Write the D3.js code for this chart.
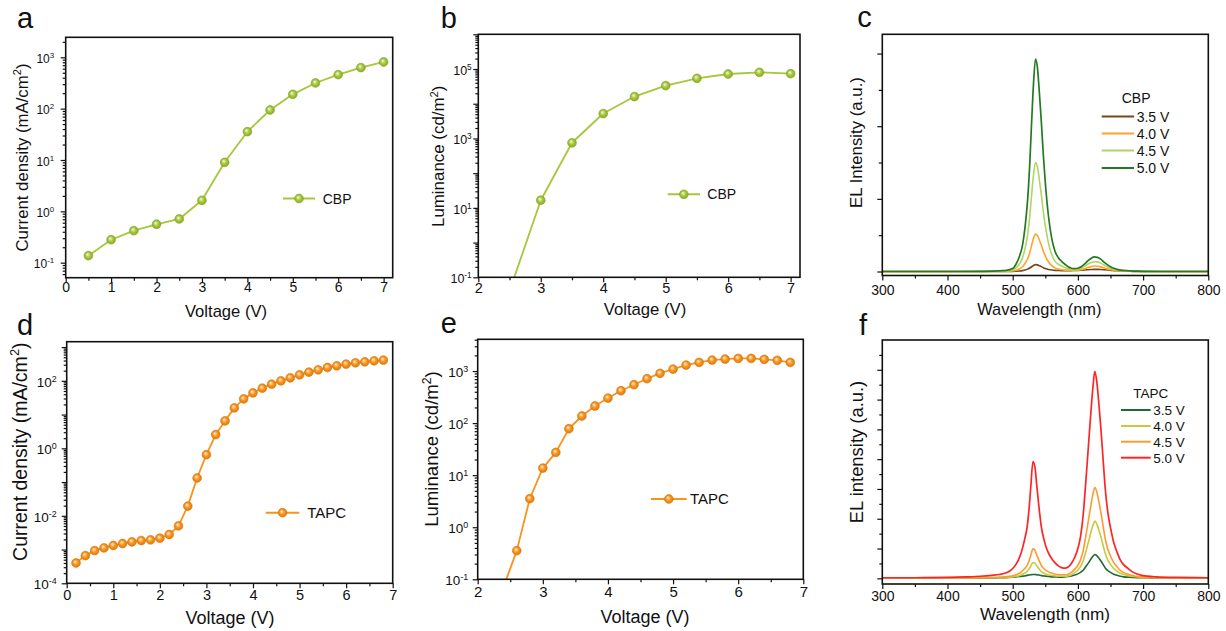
<!DOCTYPE html>
<html>
<head>
<meta charset="utf-8">
<script src="https://cdn.jsdelivr.net/npm/d3@7"></script>
<style>
  body { margin: 0; background: #fff; }
  svg { font-family: Arial, "Liberation Sans", Helvetica, sans-serif; display: block; }
</style>
</head>
<body>
<svg id="fig" width="1226" height="631"></svg>
<script>
// ---------------- data ----------------
// CBP device: J-V and L-V
const cbpVoltage   = [0.5, 1, 1.5, 2, 2.5, 3, 3.5, 4, 4.5, 5, 5.5, 6, 6.5, 7];
const cbpCurrent   = [0.137, 0.28, 0.42, 0.56, 0.71, 1.64, 9.0, 35.6, 94, 190, 316, 460, 630, 810];
const cbpLumVoltage = [2.5, 3, 3.5, 4, 4.5, 5, 5.5, 6, 6.5, 7];
const cbpLuminance  = [0.04, 16.6, 750, 5220, 16070, 33200, 54000, 71800, 80200, 73500];

// TAPC device: J-V and L-V
const tapcVoltage = [0.2, 0.4, 0.6, 0.8, 1.0, 1.2, 1.4, 1.6, 1.8, 2.0, 2.2, 2.4, 2.6, 2.8, 3.0, 3.2, 3.4,
                     3.6, 3.8, 4.0, 4.2, 4.4, 4.6, 4.8, 5.0, 5.2, 5.4, 5.6, 5.8, 6.0, 6.2, 6.4, 6.6, 6.8];
const tapcCurrent = [4.0e-4, 6.6e-4, 9.3e-4, 1.12e-3, 1.32e-3, 1.51e-3, 1.69e-3, 1.85e-3, 1.94e-3, 2.17e-3,
                     2.79e-3, 5.05e-3, 0.0194, 0.132, 0.65, 2.55, 6.5, 15.8, 29.2, 44, 60.5, 79.6, 100, 123,
                     151, 181, 212, 249, 279, 313, 343, 367, 393, 411];
const tapcLumVoltage = [2.4, 2.6, 2.8, 3.0, 3.2, 3.4, 3.6, 3.8, 4.0, 4.2, 4.4, 4.6, 4.8, 5.0, 5.2, 5.4,
                        5.6, 5.8, 6.0, 6.2, 6.4, 6.6, 6.8];
const tapcLuminance  = [0.073, 0.355, 3.54, 13.7, 27.4, 78, 137, 213, 303, 419, 547, 713, 902, 1092,
                        1304, 1466, 1626, 1700, 1750, 1750, 1675, 1603, 1466];

// CBP EL spectra (arbitrary units)
const cbpWavelength = [300, 350, 400, 450, 470, 480, 490, 500, 505, 510, 515, 520, 523, 526, 529, 532, 535,
                       538, 541, 544, 547, 550, 555, 560, 565, 570, 575, 580, 585, 590, 595, 600, 605, 610,
                       615, 620, 625, 630, 635, 640, 645, 650, 655, 660, 670, 680, 690, 700, 750, 800];
const cbpEL35 = [0, 0, 0, 0, 0, 0, 0.002, 0.004, 0.008, 0.014, 0.025, 0.047, 0.066, 0.095, 0.13, 0.167, 0.19,
                 0.183, 0.16, 0.135, 0.105, 0.082, 0.055, 0.04, 0.032, 0.028, 0.025, 0.024, 0.024, 0.025, 0.027,
                 0.03, 0.036, 0.043, 0.05, 0.056, 0.06, 0.059, 0.055, 0.048, 0.04, 0.032, 0.025, 0.019, 0.011,
                 0.006, 0.003, 0.002, 0, 0];
const cbpEL40 = [0, 0, 0, 0, 0, 0.004, 0.006, 0.014, 0.035, 0.07, 0.13, 0.25, 0.35, 0.51, 0.72, 0.92, 1.03,
                 0.99, 0.86, 0.72, 0.56, 0.43, 0.26, 0.16, 0.1, 0.065, 0.048, 0.038, 0.032, 0.03, 0.03, 0.035,
                 0.05, 0.075, 0.11, 0.135, 0.15, 0.146, 0.128, 0.1, 0.072, 0.05, 0.034, 0.023, 0.012, 0.006,
                 0.003, 0.002, 0, 0];
const cbpEL45 = [0, 0, 0, 0, 0.005, 0.01, 0.015, 0.04, 0.1, 0.2, 0.37, 0.72, 1.03, 1.49, 2.1, 2.67, 3.0,
                 2.87, 2.51, 2.1, 1.64, 1.26, 0.77, 0.46, 0.28, 0.2, 0.15, 0.11, 0.075, 0.055, 0.05, 0.06,
                 0.09, 0.14, 0.2, 0.245, 0.27, 0.265, 0.23, 0.18, 0.13, 0.09, 0.06, 0.04, 0.02, 0.01, 0.005,
                 0.003, 0, 0];
const cbpEL50 = [0, 0, 0, 0.005, 0.01, 0.02, 0.03, 0.08, 0.2, 0.4, 0.72, 1.4, 2.0, 2.9, 4.1, 5.2, 5.85,
                 5.6, 4.9, 4.1, 3.2, 2.45, 1.5, 0.9, 0.55, 0.38, 0.28, 0.2, 0.13, 0.09, 0.08, 0.09, 0.13, 0.2,
                 0.29, 0.36, 0.4, 0.39, 0.34, 0.26, 0.19, 0.13, 0.09, 0.06, 0.03, 0.015, 0.008, 0.005, 0, 0];

// TAPC EL spectra (arbitrary units)
const tapcWavelength = [300, 350, 400, 430, 450, 468, 480, 488, 495, 500, 505, 510, 514, 518, 522, 525, 528,
                        531, 534, 537, 540, 544, 548, 552, 556, 560, 565, 570, 575, 580, 585, 590, 595, 600,
                        604, 608, 612, 616, 620, 623, 626, 629, 632, 635, 638, 642, 646, 650, 655, 660, 665,
                        670, 677, 685, 698, 720, 750, 800];
const tapcEL35 = [0.01, 0.01, 0.01, 0.01, 0.01, 0.01, 0.02, 0.02, 0.03, 0.04, 0.05, 0.06, 0.07, 0.08, 0.1,
                  0.11, 0.12, 0.13, 0.13, 0.12, 0.11, 0.09, 0.08, 0.07, 0.06, 0.05, 0.05, 0.04, 0.04, 0.05,
                  0.06, 0.08, 0.11, 0.15, 0.2, 0.27, 0.39, 0.51, 0.65, 0.74, 0.8, 0.76, 0.68, 0.59, 0.49,
                  0.35, 0.26, 0.2, 0.14, 0.1, 0.07, 0.05, 0.04, 0.03, 0.02, 0.01, 0.01, 0.01];
const tapcEL40 = [0.01, 0.01, 0.01, 0.01, 0.02, 0.02, 0.02, 0.03, 0.04, 0.05, 0.07, 0.09, 0.13, 0.17, 0.23,
                  0.31, 0.43, 0.53, 0.51, 0.42, 0.33, 0.23, 0.17, 0.13, 0.11, 0.095, 0.08, 0.072, 0.07, 0.07,
                  0.08, 0.12, 0.19, 0.28, 0.39, 0.58, 0.88, 1.21, 1.55, 1.77, 1.92, 1.82, 1.63, 1.41, 1.16,
                  0.83, 0.61, 0.47, 0.33, 0.24, 0.17, 0.13, 0.09, 0.06, 0.03, 0.02, 0.01, 0.01];
const tapcEL45 = [0.02, 0.02, 0.02, 0.02, 0.03, 0.03, 0.04, 0.05, 0.07, 0.09, 0.12, 0.17, 0.23, 0.32, 0.43,
                  0.58, 0.79, 0.99, 0.95, 0.78, 0.62, 0.43, 0.32, 0.25, 0.2, 0.17, 0.14, 0.125, 0.12, 0.12,
                  0.14, 0.2, 0.3, 0.44, 0.62, 0.92, 1.4, 1.93, 2.46, 2.82, 3.05, 2.9, 2.6, 2.24, 1.85,
                  1.32, 0.97, 0.75, 0.53, 0.39, 0.27, 0.2, 0.14, 0.09, 0.05, 0.03, 0.02, 0.02];
const tapcEL50 = [0.02, 0.02, 0.03, 0.05, 0.07, 0.1, 0.13, 0.17, 0.24, 0.33, 0.47, 0.68, 0.93, 1.28, 1.7,
                  2.3, 3.15, 3.92, 3.75, 3.1, 2.45, 1.72, 1.3, 1.0, 0.8, 0.66, 0.52, 0.42, 0.36, 0.34,
                  0.38, 0.5, 0.7, 1.0, 1.4, 2.1, 3.2, 4.4, 5.6, 6.4, 6.95, 6.6, 5.9, 5.1, 4.2,
                  3.0, 2.2, 1.7, 1.2, 0.88, 0.62, 0.46, 0.33, 0.2, 0.1, 0.05, 0.03, 0.02];

const voltageLabels = ["3.5 V", "4.0 V", "4.5 V", "5.0 V"];

// ---------------- drawing helpers ----------------
const svg = d3.select("#fig");
const defs = svg.append("defs");

function ballGradient(id, light, base, dark) {
  const g = defs.append("radialGradient").attr("id", id)
    .attr("cx", "50%").attr("cy", "50%").attr("r", "55%").attr("fx", "38%").attr("fy", "34%");
  g.append("stop").attr("offset", "0%").attr("stop-color", light);
  g.append("stop").attr("offset", "50%").attr("stop-color", base);
  g.append("stop").attr("offset", "100%").attr("stop-color", dark);
}
ballGradient("ballGreen", "#f4fadf", "#a8c93c", "#86a526");
ballGradient("ballOrange", "#fff0d8", "#f8961f", "#d9770c");

function supText(sel, base, sup, tail, fs) {
  sel.text(null);
  sel.append("tspan").text(base);
  sel.append("tspan").attr("font-size", (fs * 0.66).toFixed(2)).attr("dy", (-fs * 0.4).toFixed(2)).text(sup);
  if (tail) sel.append("tspan").attr("font-size", fs).attr("dy", (fs * 0.4).toFixed(2)).text(tail);
}

function logTicks(domain) {
  const out = [];
  const e0 = Math.floor(Math.log10(domain[0])), e1 = Math.ceil(Math.log10(domain[1]));
  for (let e = e0; e <= e1; e++) {
    for (let m = 1; m <= 9; m++) {
      const v = m * Math.pow(10, e);
      if (v >= domain[0] * 0.9999 && v <= domain[1] * 1.0001) out.push(v);
    }
  }
  return out;
}

function panel(cfg) {
  const b = cfg.box;
  const g = svg.append("g");
  const x = d3.scaleLinear().domain(cfg.xDomain).range([b.x0, b.x1]);
  const y = (cfg.yLog ? d3.scaleLog() : d3.scaleLinear()).domain(cfg.yDomain).range([b.y1, b.y0]);

  const clipId = "clip-" + cfg.id;
  defs.append("clipPath").attr("id", clipId).append("rect")
    .attr("x", b.x0).attr("y", b.y0).attr("width", b.x1 - b.x0).attr("height", b.y1 - b.y0);

  // x axis: minor then major ticks
  const gxMinor = g.append("g").attr("transform", `translate(0,${b.y1})`)
    .call(d3.axisBottom(x).tickValues(cfg.xMinor).tickSize(3).tickFormat(""));
  const gx = g.append("g").attr("transform", `translate(0,${b.y1})`)
    .call(d3.axisBottom(x).tickValues(cfg.xMajor).tickSize(5).tickFormat(d3.format("d")));
  [gxMinor, gx].forEach(a => { a.select(".domain").remove(); a.selectAll("line").attr("stroke", "#111").attr("stroke-width", 1.2); });
  gx.selectAll(".tick text").attr("y", cfg.xTickOffset).attr("dy", null)
    .attr("font-size", cfg.xTickFs).attr("fill", "#111").attr("font-family", null);

  // y axis
  let yMinorVals, yMajorVals;
  if (cfg.yLog) {
    const all = logTicks(cfg.yDomain);
    yMajorVals = all.filter(v => Math.abs(Math.log10(v) - Math.round(Math.log10(v))) < 1e-9);
    yMinorVals = all.filter(v => !yMajorVals.includes(v));
  } else {
    yMajorVals = cfg.yMajor; yMinorVals = cfg.yMinor;
  }
  const gyMinor = g.append("g").attr("transform", `translate(${b.x0},0)`)
    .call(d3.axisLeft(y).tickValues(yMinorVals).tickSize(cfg.yMinorSize || 3).tickFormat(""));
  const gy = g.append("g").attr("transform", `translate(${b.x0},0)`)
    .call(d3.axisLeft(y).tickValues(yMajorVals).tickSize(5).tickFormat(""));
  [gyMinor, gy].forEach(a => { a.select(".domain").remove(); a.selectAll("line").attr("stroke", "#111").attr("stroke-width", 1.2); });
  if (cfg.yLog) {
    gy.selectAll(".tick text").each(function (d) {
      const e = Math.round(Math.log10(d));
      const t = d3.select(this);
      if (!cfg.yLabelExps.includes(e)) { t.remove(); return; }
      t.attr("x", -cfg.yTickGap).attr("dy", (cfg.yTickFs * 0.42).toFixed(2))
        .attr("font-size", cfg.yTickFs).attr("fill", "#111").attr("text-anchor", "end");
      supText(t, "10", String(e), null, cfg.yTickFs);
    });
  } else {
    gy.selectAll(".tick text").remove();
  }

  // data
  const plot = g.append("g").attr("clip-path", `url(#${clipId})`);
  if (cfg.series) {
    cfg.series.forEach(s => {
      const pts = s.x.map((v, i) => [v, s.y[i]]);
      plot.append("path").datum(pts)
        .attr("fill", "none").attr("stroke", s.color).attr("stroke-width", s.width || 1.8)
        .attr("stroke-linejoin", "round")
        .attr("d", d3.line().x(d => x(d[0])).y(d => y(d[1])).curve(s.curve || d3.curveLinear));
      if (s.marker) {
        plot.selectAll(null).data(pts).join("circle")
          .attr("cx", d => x(d[0])).attr("cy", d => y(d[1])).attr("r", 4.4)
          .attr("fill", `url(#${s.marker})`).attr("stroke", s.markerStroke).attr("stroke-width", 0.6);
      }
    });
  }

  // frame
  g.append("rect").attr("x", b.x0).attr("y", b.y0).attr("width", b.x1 - b.x0).attr("height", b.y1 - b.y0)
    .attr("fill", "none").attr("stroke", "#111").attr("stroke-width", 1.6);

  // axis titles
  g.append("text").attr("x", cfg.xTitle.x).attr("y", cfg.xTitle.y).attr("text-anchor", "middle")
    .attr("font-size", cfg.xTitle.fs).attr("fill", "#111").text(cfg.xTitle.text);
  const yt = g.append("text").attr("transform", `translate(${cfg.yTitle.x},${cfg.yTitle.y}) rotate(-90)`)
    .attr("text-anchor", "middle").attr("font-size", cfg.yTitle.fs).attr("fill", "#111");
  if (cfg.yTitle.sup) supText(yt, cfg.yTitle.text, cfg.yTitle.sup, cfg.yTitle.tail, cfg.yTitle.fs);
  else yt.text(cfg.yTitle.text);

  // panel letter
  g.append("text").attr("x", cfg.letter.x).attr("y", cfg.letter.y).attr("font-size", 29)
    .attr("fill", "#111").text(cfg.id);

  // legends
  if (cfg.markerLegend) {
    const L = cfg.markerLegend, s = cfg.series[0];
    g.append("line").attr("x1", L.x0).attr("x2", L.x1).attr("y1", L.y).attr("y2", L.y)
      .attr("stroke", s.color).attr("stroke-width", 2);
    g.append("circle").attr("cx", (L.x0 + L.x1) / 2).attr("cy", L.y).attr("r", 4.4)
      .attr("fill", `url(#${s.marker})`).attr("stroke", s.markerStroke).attr("stroke-width", 0.6);
    g.append("text").attr("x", L.tx).attr("y", L.y + L.fs * 0.36).attr("font-size", L.fs)
      .attr("fill", "#111").text(L.text);
  }
  if (cfg.lineLegend) {
    const L = cfg.lineLegend;
    g.append("text").attr("x", L.titleX).attr("y", L.titleY).attr("font-size", L.fs)
      .attr("fill", "#111").text(L.title);
    cfg.series.forEach((s, i) => {
      const yy = L.ys[i];
      g.append("line").attr("x1", L.x0).attr("x2", L.x1).attr("y1", yy).attr("y2", yy)
        .attr("stroke", s.color).attr("stroke-width", 2);
      g.append("text").attr("x", L.tx).attr("y", yy + L.fs * 0.36).attr("font-size", L.fs)
        .attr("fill", "#111").text(voltageLabels[i]);
    });
  }
}

const halves = (a, b) => d3.range(a, b + 1e-9, 1).map(v => v + 0.5);
const cbpGreen = "#a5c73a", tapcOrange = "#f7931e";

// ---------------- panels ----------------
panel({
  id: "a", box: { x0: 65.7, y0: 37.3, x1: 392.7, y1: 277.7 },
  xDomain: [0, 7.2], xMajor: d3.range(0, 8), xMinor: halves(0, 6),
  yLog: true, yDomain: [0.051, 2450], yLabelExps: [-1, 0, 1, 2, 3], yTickFs: 12, yTickGap: 11.5,
  xTickFs: 14, xTickOffset: 14,
  xTitle: { x: 226, y: 317, fs: 16.6, text: "Voltage (V)" },
  yTitle: { x: 28, y: 157.5, fs: 16.8, text: "Current density (mA/cm", sup: "2", tail: ")" },
  letter: { x: 17, y: 28.3 },
  series: [{ x: cbpVoltage, y: cbpCurrent, color: cbpGreen, marker: "ballGreen", markerStroke: "#86a526" }],
  markerLegend: { x0: 283, x1: 315, y: 198.5, tx: 322.7, fs: 14, text: "CBP" }
});

panel({
  id: "b", box: { x0: 478.3, y0: 34.3, x1: 800, y1: 277.3 },
  xDomain: [2, 7.15], xMajor: d3.range(2, 8), xMinor: halves(2, 6),
  yLog: true, yDomain: [0.1, 1e6], yLabelExps: [-1, 1, 3, 5], yTickFs: 12.5, yTickGap: 6.6,
  xTickFs: 14.5, xTickOffset: 16,
  xTitle: { x: 645, y: 314.5, fs: 16.7, text: "Voltage (V)" },
  yTitle: { x: 444.3, y: 156.3, fs: 16.9, text: "Luminance (cd/m", sup: "2", tail: ")" },
  letter: { x: 440.7, y: 28.3 },
  series: [{ x: cbpLumVoltage, y: cbpLuminance, color: cbpGreen, marker: "ballGreen", markerStroke: "#86a526" }],
  markerLegend: { x0: 667.7, x1: 700, y: 194.3, tx: 707.3, fs: 14, text: "CBP" }
});

panel({
  id: "c", box: { x0: 882.3, y0: 34.3, x1: 1208.3, y1: 275.5 },
  xDomain: [300, 800], xMajor: d3.range(300, 801, 100), xMinor: d3.range(350, 800, 100),
  yLog: false, yDomain: [-0.11, 6.53], yMajor: [0, 2, 4, 6], yMinor: [1, 3, 5], yMinorSize: 3.5,
  xTickFs: 14, xTickOffset: 19.5,
  xTitle: { x: 1039.3, y: 314.5, fs: 16.4, text: "Wavelength (nm)" },
  yTitle: { x: 861.7, y: 142.5, fs: 16.8, text: "EL Intensity (a.u.)" },
  letter: { x: 857.3, y: 26.7 },
  series: [
    { x: cbpWavelength, y: cbpEL35, color: "#76461c", width: 1.6, curve: d3.curveMonotoneX },
    { x: cbpWavelength, y: cbpEL40, color: "#ffa42a", width: 1.6, curve: d3.curveMonotoneX },
    { x: cbpWavelength, y: cbpEL45, color: "#b0d466", width: 1.6, curve: d3.curveMonotoneX },
    { x: cbpWavelength, y: cbpEL50, color: "#237a23", width: 1.7, curve: d3.curveMonotoneX }
  ],
  lineLegend: { title: "CBP", titleX: 1121.7, titleY: 103.3, ys: [116.5, 133.5, 150.5, 168],
                x0: 1101.7, x1: 1134, tx: 1136.7, fs: 14 }
});

panel({
  id: "d", box: { x0: 66.7, y0: 341.7, x1: 392.7, y1: 583.3 },
  xDomain: [0, 7], xMajor: d3.range(0, 8), xMinor: halves(0, 6),
  yLog: true, yDomain: [1e-4, 1445], yLabelExps: [-4, -2, 0, 2], yTickFs: 13.5, yTickGap: 10,
  xTickFs: 14.5, xTickOffset: 17,
  xTitle: { x: 230, y: 624, fs: 18, text: "Voltage (V)" },
  yTitle: { x: 27, y: 451.7, fs: 19.5, text: "Current density (mA/cm", sup: "2", tail: ")" },
  letter: { x: 17, y: 335 },
  series: [{ x: tapcVoltage, y: tapcCurrent, color: tapcOrange, marker: "ballOrange", markerStroke: "#d9770c" }],
  markerLegend: { x0: 265.7, x1: 299.3, y: 512.7, tx: 307.3, fs: 15, text: "TAPC" }
});

panel({
  id: "e", box: { x0: 477.7, y0: 339.3, x1: 803.3, y1: 579.3 },
  xDomain: [2, 7], xMajor: d3.range(2, 8), xMinor: halves(2, 6),
  yLog: true, yDomain: [0.1, 4074], yLabelExps: [-1, 0, 1, 2, 3], yTickFs: 13.5, yTickGap: 9.4,
  xTickFs: 15, xTickOffset: 17.5,
  xTitle: { x: 645, y: 622.5, fs: 18, text: "Voltage (V)" },
  yTitle: { x: 438.3, y: 449, fs: 18.6, text: "Luminance (cd/m", sup: "2", tail: ")" },
  letter: { x: 440.7, y: 333.3 },
  series: [{ x: tapcLumVoltage, y: tapcLuminance, color: tapcOrange, marker: "ballOrange", markerStroke: "#d9770c" }],
  markerLegend: { x0: 651, x1: 686.7, y: 499, tx: 690, fs: 15, text: "TAPC" }
});

panel({
  id: "f", box: { x0: 882.3, y0: 340, x1: 1208.3, y1: 584 },
  xDomain: [300, 800], xMajor: d3.range(300, 801, 100), xMinor: d3.range(350, 800, 100),
  yLog: false, yDomain: [-0.19, 8.0], yMajor: d3.range(0, 8), yMinor: halves(0, 7),
  xTickFs: 14, xTickOffset: 16.5,
  xTitle: { x: 1045, y: 620, fs: 17.2, text: "Wavelength (nm)" },
  yTitle: { x: 862.5, y: 452, fs: 18.4, text: "EL intensity (a.u.)" },
  letter: { x: 859, y: 335 },
  series: [
    { x: tapcWavelength, y: tapcEL35, color: "#1f6b34", width: 1.6, curve: d3.curveMonotoneX },
    { x: tapcWavelength, y: tapcEL40, color: "#c9c93e", width: 1.6, curve: d3.curveMonotoneX },
    { x: tapcWavelength, y: tapcEL45, color: "#ff9a30", width: 1.6, curve: d3.curveMonotoneX },
    { x: tapcWavelength, y: tapcEL50, color: "#ff2424", width: 1.7, curve: d3.curveMonotoneX }
  ],
  lineLegend: { title: "TAPC", titleX: 1133.3, titleY: 398.3, ys: [410, 426, 441.7, 457.7],
                x0: 1121, x1: 1150.7, tx: 1153.3, fs: 13.5 }
});
</script>
</body>
</html>
